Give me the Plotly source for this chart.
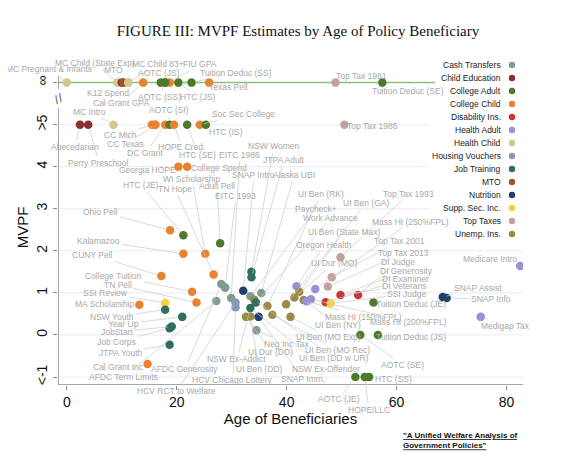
import plotly.graph_objects as go

categories = ["Cash Transfers","Child Education","College Adult","College Child","Disability Ins.",
              "Health Adult","Health Child","Housing Vouchers","Job Training","MTO","Nutrition",
              "Supp. Sec. Inc.","Top Taxes","Unemp. Ins."]
colors = ["#7f9c8e","#8b2e2e","#4d7a2a","#e8822e","#cc3333","#9b8fd6","#cfc78f","#8899b5",
          "#2e6e60","#a0522d","#1f3f6e","#f5d33a","#c4a09e","#9a8a45"]

# mvpf 6 = infinity, 5 = >5, -1 = <-1
names = ["MC Pregnant & Infants","MC Child (State Exp)","K12 Spend","MTO","MC Child 83+","Cal Grant GPA",
 "AOTC (JS)","AOTC (SS)","FIU GPA","HTC (JS)","Tuition Deduc (SS)","Texas Pell","Top Tax 1981","Tuition Deduc (SE)",
 "Abecedarian","Perry Preschool","MC Intro","CC Mich","CC Texas","DC Grant","AOTC (SI)","HOPE Cred.","HTC (SE)",
 "Soc Sec College","HTC (IS)","Top Tax 1986","Georgia HOPE","College Spend",
 "Ohio Pell","HTC (JE)","Kalamazoo","WI Scholarship","Adult Pell","CUNY Pell","TN Hope","College Tuition","TN Pell",
 "SSI Review","MA Scholarship","NSW Youth","Year Up","JobStart","Job Corps","JTPA Youth","Cal Grant Inc",
 "AFDC Generosity","EITC 1993","AFDC Term Limits","EITC 1986","HCV RCT to Welfare","HCV Chicago Lottery","SNAP Intro",
 "NSW Women","JTPA Adult","Paycheck+","UI Ben (DD w UR)","Work Advance","NSW Ex-Offender","Alaska UBI",
 "UI Dur (DD)","UI Ben (DD)","SNAP Imm.","Neg Inc Tax","UI Ben (RK)","UI Ben (MO Rec)","UI Ben (GA)","UI Ben (MO Exp)",
 "UI Dur (MO)","Oregon Health","UI Ben (State Max)","UI Ben (NY)","Mass HI (150%FPL)","Mass HI (200%FPL)","Mass HI (250%FPL)",
 "Top Tax 2013","Top Tax 2001","Top Tax 1993","DI Examiner","DI Generosity","DI Judge","SSI Judge","Tuition Deduc (JE)",
 "AOTC (SE)","Tuition Deduc (JS)","AOTC (JE)","HOPE/LLC","HTC (SS)","SNAP Assist","SNAP Info","Medigap Tax","Medicare Intro",
 "","","",""]
cats = ["Health Child","Health Child","Child Education","MTO","Health Child","College Child",
 "College Adult","College Adult","College Child","College Adult","College Adult","College Child","Top Taxes","College Adult",
 "Child Education","Child Education","Health Child","College Child","College Child","College Child","College Adult","College Child","College Adult",
 "College Child","College Adult","Top Taxes","College Child","College Child",
 "College Child","College Adult","College Child","College Child","College Adult","College Child","College Child","College Child","College Child",
 "Supp. Sec. Inc.","College Child","Job Training","Job Training","Job Training","Job Training","Job Training","College Child",
 "Cash Transfers","Cash Transfers","Cash Transfers","Cash Transfers","Housing Vouchers","Housing Vouchers","Nutrition",
 "Job Training","Job Training","Cash Transfers","Unemp. Ins.","Job Training","Job Training","Cash Transfers",
 "Unemp. Ins.","Unemp. Ins.","Nutrition","Cash Transfers","Unemp. Ins.","Unemp. Ins.","Unemp. Ins.","Unemp. Ins.",
 "Unemp. Ins.","Health Adult","Unemp. Ins.","Unemp. Ins.","Health Adult","Health Adult","Health Adult",
 "Top Taxes","Top Taxes","Top Taxes","Disability Ins.","Disability Ins.","Disability Ins.","Supp. Sec. Inc.","College Adult",
 "College Adult","College Adult","College Adult","College Adult","College Adult","Nutrition","Nutrition","Health Adult","Health Adult",
 "College Adult","Health Child","Cash Transfers","College Child"]
ages = [0.0,9.2,10.0,10.3,11.2,13.9,
 17.1,17.9,18.7,20.3,22.7,25.9,48.9,57.4,
 2.4,3.9,8.5,15.5,16.1,17.9,18.7,19.5,21.9,
 24.2,25.3,50.5,20.3,21.9,
 18.8,21.2,21.2,25.2,27.9,17.2,26.7,22.8,23.6,
 17.9,13.2,17.9,21.0,19.1,18.7,18.7,14.7,
 28.1,28.8,27.2,29.9,30.7,30.7,32.1,
 33.6,33.6,33.4,34.1,34.4,33.4,35.4,
 32.6,33.4,34.9,34.5,36.5,37.4,39.9,40.7,
 41.4,41.8,42.3,43.1,43.6,44.4,45.2,
 47.5,48.2,49.8,47.1,49.8,53.0,48.0,55.8,
 53.4,56.6,52.5,54.2,55.0,68.4,69.1,75.3,82.5,
 17.9,11.2,28.8,16.1]
mvpfs = [6,6,6,6,6,6,
 6,6,6,6,6,6,6,6,
 5,5,5,5,5,5,5,5,5,
 5,5,5,4.0,4.0,
 2.49,2.37,1.93,1.93,2.18,1.40,1.44,1.03,0.77,
 0.76,0.72,0.60,0.43,0.20,0.16,-0.23,-0.69,
 1.21,1.13,0.81,0.88,0.77,0.66,1.05,
 1.50,1.37,0.92,0.84,0.77,0.64,1.00,
 0.43,0.44,0.43,0.11,0.69,0.48,0.73,0.43,
 0.89,1.16,1.03,0.83,0.80,0.85,1.09,
 1.15,1.37,1.85,0.78,0.95,0.95,0.75,0.77,
 0.0,0.0,-1,-1,-1,0.9,0.88,0.43,1.64,
 6,6,1.13,5]

# label text positions in reference-page pixels (text centre)
label_px = {
 "MC Pregnant & Infants":(48,68),"MC Child (State Exp)":(94,62),"MTO":(113,69),"MC Child 83+":(157,63),
 "K12 Spend":(107,92),"AOTC (JS)":(158,72),"FIU GPA":(199,63),"Tuition Deduc (SS)":(235,72),"Texas Pell":(228,86),
 "AOTC (SS)":(159,96),"HTC (JS)":(197,96),"Cal Grant GPA":(120,102),"Top Tax 1981":(361,75),"Tuition Deduc (SE)":(407,90),
 "MC Intro":(89,111),"Abecedarian":(74,146),"Perry Preschool":(98,162),"CC Mich":(120,134),"CC Texas":(125,143),
 "DC Grant":(145,152),"HOPE Cred.":(181,146),"AOTC (SI)":(168,109),"HTC (SE)":(197,154),"Soc Sec College":(243,113),
 "HTC (IS)":(225,131),"Top Tax 1986":(372,125),"Georgia HOPE":(147,169),"College Spend":(218,167),
 "NSW Women":(273,145),"EITC 1986":(239,154),"JTPA Adult":(283,159),"SNAP Intro":(253,174),"Alaska UBI":(293,174),
 "WI Scholarship":(191,178),"Adult Pell":(216,185),"HTC (JE)":(140,184),"TN Hope":(174,188),"EITC 1993":(235,195),
 "UI Ben (RK)":(320,193),"Top Tax 1993":(408,193),"UI Ben (GA)":(365,202),"Paycheck+":(315,208),"Work Advance":(330,217),
 "Ohio Pell":(100,211),"UI Ben (State Max)":(343,231),"Mass HI (250%FPL)":(410,221),"Oregon Health":(323,244),
 "Top Tax 2001":(399,240),"Top Tax 2013":(403,252),"UI Dur (MO)":(333,262),"DI Judge":(397,261),"DI Generosity":(406,270),
 "DI Examiner":(405,278),"DI Veterans":(403,285),"SSI Judge":(406,293),"Tuition Deduc (JE)":(410,303),"Kalamazoo":(98,240),
 "CUNY Pell":(92,254),"College Tuition":(113,275),"TN Pell":(117,284),"SSI Review":(105,292),"MA Scholarship":(104,303),
 "NSW Youth":(111,316),"Year Up":(123,323),"JobStart":(116,331),"Job Corps":(116,341),"JTPA Youth":(120,352),
 "Cal Grant Inc":(118,366),"AFDC Term Limits":(123,376),"AFDC Generosity":(184,368),"HCV RCT to Welfare":(176,390),
 "HCV Chicago Lottery":(232,379),"NSW Ex-Addict":(236,358),"UI Dur (DD)":(270,351),"Neg Inc Tax":(286,343),
 "UI Ben (DD)":(258,368),"SNAP Imm.":(302,378),"NSW Ex-Offender":(325,368),"UI Ben (MO Exp)":(328,336),
 "UI Ben (MO Rec)":(337,349),"UI Ben (DD w UR)":(333,357),"UI Ben (NY)":(337,324),"Mass HI (150%FPL)":(363,316),
 "Mass HI (200%FPL)":(408,321),"Tuition Deduc (JS)":(410,336),"AOTC (SE)":(402,364),"HTC (SS)":(393,378),
 "AOTC (JE)":(338,398),"HOPE/LLC":(368,409),"Medicare Intro":(490,258),"SNAP Assist":(477,287),"SNAP Info":(490,298),
 "Medigap Tax":(505,325),
}
extra_links = {"NSW Ex-Addict":"NSW Ex-Offender","DI Veterans":"DI Generosity"}

def px2data(ox, oy):
    return (ox - 65.8) / 5.497, (334 - oy) / 42.06

W, H = 562, 449
fig = go.Figure()
cmap = dict(zip(categories, colors))
fig.add_trace(go.Scatter(x=ages, y=mvpfs, mode="markers", hoverinfo="skip",
    marker=dict(size=8.5, color=[cmap[c] for c in cats], line=dict(width=0)), showlegend=False))

lookup = {n: (a, m) for n, a, m in zip(names, ages, mvpfs) if n}
ann = []
for lab, (ox, oy) in label_px.items():
    target = lookup.get(lab) or lookup[extra_links[lab]]
    tx, ty = px2data(ox, oy)
    ann.append(dict(x=target[0], y=target[1], ax=tx, ay=ty, axref="x", ayref="y", xref="x", yref="y",
        text=lab, showarrow=True, arrowhead=0, arrowwidth=0.7, arrowcolor="#c8c8c8", standoff=4,
        font=dict(size=8.5, color="#a8a8a8", family="Liberation Sans"), xanchor="center", yanchor="middle"))

def pp(ox, oy):
    return (ox - 57) / 465, 1 - (oy - 69) / 315

for i, c in enumerate(categories):
    px_, py_ = pp(502, 64 + i * 13.0)
    ann.append(dict(xref="paper", yref="paper", x=px_, y=py_, text=c, showarrow=False, xanchor="right",
        yanchor="middle", font=dict(size=8.5, color="#222", family="Liberation Sans")))
shapes = []
for i, col in enumerate(colors):
    cx, cy = pp(511, 64 + i * 13.0)
    shapes.append(dict(type="circle", xref="paper", yref="paper", x0=cx - 3.2/465, x1=cx + 3.2/465,
        y0=cy - 3.2/315, y1=cy + 3.2/315, fillcolor=col, line=dict(width=0)))

grid = "#e6ecf4"
for v in [-1, 0, 1, 2]:
    shapes.append(dict(type="line", xref="x", yref="y", x0=-1.6, x1=83, y0=v, y1=v, line=dict(color=grid, width=1), layer="below"))
for v in [3, 4, 5]:
    shapes.append(dict(type="line", xref="x", yref="y", x0=-1.6, x1=66, y0=v, y1=v, line=dict(color=grid, width=1), layer="below"))
shapes.append(dict(type="line", xref="x", yref="y", x0=-1.6, x1=67, y0=6, y1=6, line=dict(color="#8cc07a", width=1.5), layer="below"))
axc = "#8a8a8a"
shapes += [
 dict(type="line", xref="x", yref="y", x0=-1.6, x1=-1.6, y0=-1.19, y1=5.4, line=dict(color=axc, width=1.5)),
 dict(type="line", xref="x", yref="y", x0=-1.6, x1=-1.6, y0=5.85, y1=6.15, line=dict(color=axc, width=1.5)),
 dict(type="line", xref="x", yref="y", x0=-1.6, x1=83, y0=-1.19, y1=-1.19, line=dict(color=axc, width=1.5)),
]
ann.append(dict(xref="x", yref="y", x=-1.6, y=5.62, text="//", showarrow=False, textangle=-30,
    font=dict(size=12, color="#555")))
bx, by = pp(400, 428)
ann.append(dict(xref="paper", yref="paper", x=bx, y=by, xanchor="left", yanchor="top",
    text='<b><u>"A Unified Welfare Analysis of<br>Government Policies"</u></b>', showarrow=False, align="left",
    font=dict(size=8, color="#111", family="Liberation Sans")))

fig.update_layout(
    width=W, height=H, margin=dict(l=50, r=47, t=62, b=72),
    paper_bgcolor="white", plot_bgcolor="white",
    title=dict(text="FIGURE III: MVPF Estimates by Age of Policy Beneficiary", x=(298 - 8) / W, y=1 - (31 - 8) / H,
               xanchor="center", yanchor="middle",
               font=dict(family="Liberation Serif", size=15, color="#111")),
    xaxis=dict(range=[-1.6, 83], tickvals=[0, 20, 40, 60, 80], showgrid=False, zeroline=False, showline=False,
               ticks="outside", ticklen=4, tickcolor=axc, tickfont=dict(size=14, color="#111", family="Liberation Sans"),
               title=dict(text="Age of Beneficiaries", font=dict(size=15, color="#111", family="Liberation Sans"), standoff=4)),
    yaxis=dict(range=[-1.19, 6.3], tickvals=[-1, 0, 1, 2, 3, 4, 5, 6],
               ticktext=["<-1", "0", "1", "2", "3", "4", ">5", "∞"], tickangle=-90,
               showgrid=False, zeroline=False, showline=False, ticks="outside", ticklen=4, tickcolor=axc,
               tickfont=dict(size=14, color="#111", family="Liberation Sans"),
               title=dict(text="MVPF", font=dict(size=15, color="#111", family="Liberation Sans"), standoff=2)),
    annotations=ann, shapes=shapes,
)
fig.write_html("out.html")
